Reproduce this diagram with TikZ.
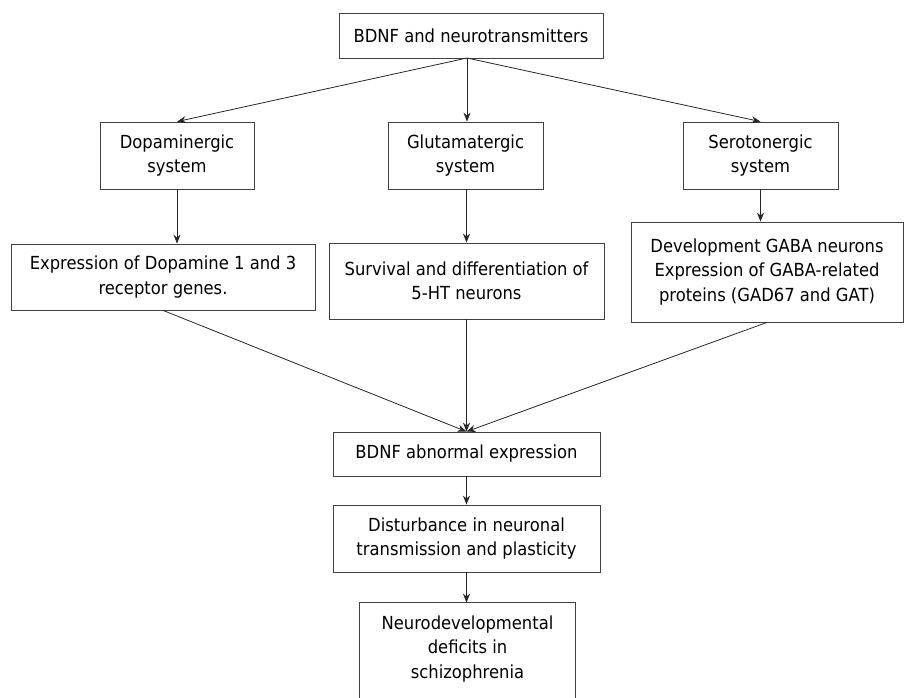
\documentclass[tikz,border=0pt]{standalone}
\usepackage{fontspec}
\setmainfont{DejaVu Sans}[FakeStretch=0.91]
\usetikzlibrary{arrows.meta}

\begin{document}
\begin{tikzpicture}[x=1pt, y=-1pt, >={Stealth[length=9pt, width=7pt]},
  box/.style={draw=black!75, line width=0.8pt, align=center, inner sep=0pt,
    font=\fontsize{18}{24.5}\selectfont},
  arr/.style={->, draw=black!85, line width=0.8pt}]
  \useasboundingbox (0,0) rectangle (905,697);
  % Top level
  \node[box, minimum width=264, minimum height=45] (top) at (471,35.5) {BDNF and neurotransmitters};
  % Systems
  \node[box, minimum width=154, minimum height=67] (dopa) at (177,155.5) {Dopaminergic\\system};
  \node[box, minimum width=155, minimum height=67] (glu) at (465.5,155.5) {Glutamatergic\\system};
  \node[box, minimum width=155, minimum height=67] (sero) at (760.5,155.5) {Serotonergic\\system};
  % Effects
  \node[box, minimum width=304, minimum height=66] (expr) at (163,277) {Expression of Dopamine 1 and 3\\receptor genes.};
  \node[box, minimum width=275, minimum height=76] (surv) at (466.5,281) {Survival and differentiation of\\5-HT neurons};
  \node[box, minimum width=272, minimum height=100] (dev) at (767,272) {Development GABA neurons\\Expression of GABA-related\\proteins (GAD67 and GAT)};
  % Outcome chain
  \node[box, minimum width=267, minimum height=44] (abn) at (466.5,454) {BDNF abnormal expression};
  \node[box, minimum width=267, minimum height=67] (dist) at (466.5,538.5) {Disturbance in neuronal\\transmission and plasticity};
  \node[box, draw=none, minimum width=215, minimum height=92] (neuro) at (467.5,649) {Neurodevelopmental\\deficits in\\schizophrenia};
  % open box, cut at the bottom
  \draw[black!75, line width=0.8pt] ([yshift=-10pt]neuro.south west) -- (neuro.north west)
    -- (neuro.north east) -- ([yshift=-10pt]neuro.south east);
  % Connectors
  \coordinate (split) at (467,58);
  \draw[arr] (split) -- (dopa.north);
  \draw[arr] (split) -- (glu.north -| split);
  \draw[arr] (split) -- (sero.north);
  \draw[arr] (dopa.south) -- (dopa.south |- expr.north);
  \draw[arr] (glu.south -| surv.north) -- (surv.north);
  \draw[arr] (sero.south) -- (sero.south |- dev.north);
  \draw[arr] (expr.south) -- (abn.north);
  \draw[arr] (surv.south) -- (abn.north);
  \draw[arr] (dev.south) -- (abn.north);
  \draw[arr] (abn) -- (dist);
  \draw[arr] (dist.south) -- (neuro.north -| dist.south);
\end{tikzpicture}
\end{document}
